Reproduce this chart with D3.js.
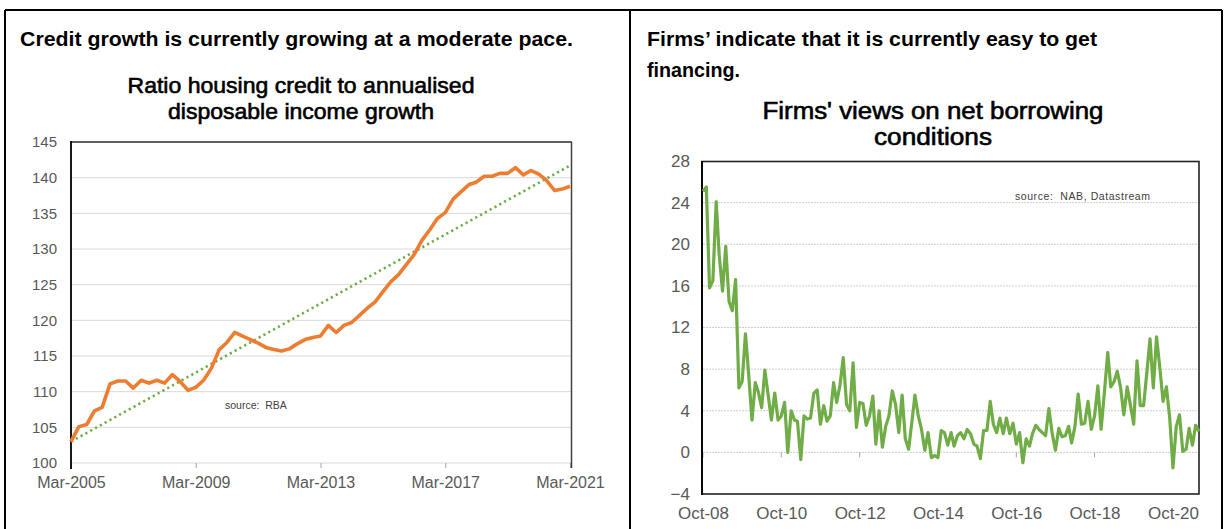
<!DOCTYPE html>
<html>
<head>
<meta charset="utf-8">
<script src="https://cdn.jsdelivr.net/npm/d3@7"></script>
<style>
  html, body { margin: 0; padding: 0; background: #fff; }
  svg { display: block; font-family: "Liberation Sans", Arial, sans-serif; }
</style>
</head>
<body>
<svg id="chart" width="1226" height="529"></svg>
<script>
// ---------- Data ----------
// Ratio of housing credit to annualised disposable income, quarterly from Mar-2005
const creditStart = "Mar-2005";
const creditRatio = [
  103.0, 105.1, 105.4, 107.3,
  107.8, 111.1, 111.5, 111.5,
  110.5, 111.6, 111.2, 111.6,
  111.2, 112.4, 111.4, 110.2,
  110.6, 111.6, 113.3, 115.9,
  116.9, 118.3, 117.8, 117.3,
  116.8, 116.2, 115.9, 115.7,
  116.0, 116.7, 117.3, 117.6,
  117.8, 119.3, 118.3, 119.3,
  119.7, 120.7, 121.7, 122.6,
  124.0, 125.4, 126.4, 127.8,
  129.2, 131.2, 132.7, 134.3,
  135.1, 137.0, 138.0, 139.0,
  139.4, 140.2, 140.2, 140.6,
  140.6, 141.4, 140.4, 141.0,
  140.5, 139.6, 138.2, 138.4,
  138.8
];
// Linear trend end points
const creditTrend = [103.0, 141.7];
const creditXTicks = ["Mar-2005", "Mar-2009", "Mar-2013", "Mar-2017", "Mar-2021"];
const creditYTicks = [100, 105, 110, 115, 120, 125, 130, 135, 140, 145];

// Firms' net borrowing conditions, monthly from Oct-08
const borrowStart = "Oct-08";
const borrowNet = [
  25.1, 25.5, 15.8, 16.5, 24.1, 19.0, 15.5, 19.8, 14.5, 13.6,
  16.6, 6.2, 6.8, 11.4, 7.5, 3.1, 6.7, 5.8, 4.3, 7.9,
  5.5, 3.1, 5.7, 3.1, 3.5, 4.8, 0.0, 4.0, 3.1, 3.0,
  -0.7, 3.5, 3.2, 3.3, 5.7, 6.0, 2.7, 4.5, 3.0, 3.5,
  6.7, 4.8, 6.5, 9.1, 4.6, 4.0, 8.6, 2.4, 4.8, 4.7,
  2.6, 3.5, 5.4, 0.8, 4.0, 0.5, 2.5, 3.5, 5.9, 4.6,
  1.9, 5.5, 1.3, 0.3, 3.0, 5.5, 3.5, 2.2, 0.2, 1.9,
  -0.5, -0.3, -0.5, 2.1, 1.9, 0.7, 1.9, 0.6, 1.6, 1.9,
  1.3, 2.2, 1.8, 0.8, 0.6, -0.6, 2.1, 2.1, 4.9, 2.7,
  1.9, 3.3, 1.8, 3.3, 1.8, 2.8, 0.8, 1.9, -1.0, 1.3,
  0.6, 1.8, 2.6, 2.2, 1.9, 1.6, 4.2, 1.8, 0.2, 2.3,
  1.5, 1.6, 2.5, 0.9, 2.5, 5.6, 2.7, 2.8, 4.9, 2.2,
  3.5, 6.4, 2.2, 5.8, 9.6, 6.3, 6.8, 7.8, 6.2, 3.6,
  6.3, 4.5, 2.7, 8.8, 4.5, 4.5, 7.7, 10.9, 6.2, 11.1,
  8.1, 4.9, 6.3, 3.3, -1.5, 2.5, 3.6, 0.1, 0.3, 2.3,
  0.7, 2.6, 2.0
];
const borrowXTicks = ["Oct-08", "Oct-10", "Oct-12", "Oct-14", "Oct-16", "Oct-18", "Oct-20"];
const borrowYTicks = [-4, 0, 4, 8, 12, 16, 20, 24, 28];

// ---------- Page frame ----------
const svg = d3.select("#chart");
const ORANGE = "#ED7D31", GREEN = "#70AD47", LABEL = "#595959", GRID = "#d9d9d9";

const frame = svg.append("g").attr("stroke", "#000").attr("stroke-width", 2);
frame.append("line").attr("x1", 5).attr("x2", 1222).attr("y1", 10).attr("y2", 10);
[5, 630, 1222].forEach(x =>
  frame.append("line").attr("x1", x).attr("x2", x).attr("y1", 10).attr("y2", 529));

// Panel headings
function heading(x, y, t, len) {
  svg.append("text").attr("x", x).attr("y", y)
    .attr("font-size", 20.5).attr("font-weight", "bold").attr("fill", "#000")
    .attr("textLength", len).attr("lengthAdjust", "spacingAndGlyphs")
    .text(t);
}
heading(20, 46, "Credit growth is currently growing at a moderate pace.", 553);
heading(647, 46, "Firms’ indicate that it is currently easy to get", 450);
heading(647, 77, "financing.", 93);

function chartTitle(cx, lines, y0, size, lens) {
  lines.forEach((t, i) =>
    svg.append("text").attr("x", cx).attr("y", y0 + i * 26)
      .attr("text-anchor", "middle").attr("font-size", size)
      .attr("fill", "#000").attr("stroke", "#000").attr("stroke-width", 0.6)
      .attr("textLength", lens[i]).attr("lengthAdjust", "spacingAndGlyphs")
      .text(t));
}
chartTitle(301, ["Ratio housing credit to annualised", "disposable income growth"], 93, 21.5, [347, 266]);
chartTitle(933, ["Firms' views on net borrowing", "conditions"], 119, 23, [341, 118]);

// ---------- Left chart: housing credit ratio ----------
{
  const parse = d3.timeParse("%b-%Y");
  const t0 = parse(creditStart);
  const dates = creditRatio.map((_, i) => d3.timeMonth.offset(t0, 3 * i));
  const x = d3.scaleTime().domain([t0, dates[dates.length - 1]]).range([71, 570]);
  const y = d3.scaleLinear().domain([100, 145]).range([463, 142]);
  const g = svg.append("g");

  // gridlines
  g.selectAll("line.grid").data(creditYTicks).join("line")
    .attr("x1", 71).attr("x2", 571)
    .attr("y1", d => y(d)).attr("y2", d => y(d))
    .attr("stroke", GRID).attr("stroke-width", 1);

  // y tick labels
  const yAxis = d3.axisLeft(y).tickValues(creditYTicks).tickSize(0).tickPadding(14);
  const ya = g.append("g").attr("transform", "translate(71,0)").call(yAxis);
  ya.select(".domain").remove();
  ya.selectAll("text").attr("font-size", 15).attr("fill", LABEL)
    .attr("font-family", "Liberation Sans, Arial, sans-serif");

  // x axis ticks and labels
  const xAxis = d3.axisBottom(x).tickValues(creditXTicks.map(parse))
    .tickFormat(d3.timeFormat("%b-%Y")).tickSize(5).tickPadding(9);
  const xa = g.append("g").attr("transform", "translate(0,463)").call(xAxis);
  xa.select(".domain").remove();
  xa.selectAll("line").attr("stroke", "#a6a6a6");
  xa.selectAll("text").attr("font-size", 16).attr("fill", LABEL)
    .attr("font-family", "Liberation Sans, Arial, sans-serif");

  // plot frame
  g.append("line").attr("x1", 71).attr("x2", 572).attr("y1", 142).attr("y2", 142)
    .attr("stroke", "#333").attr("stroke-width", 1.5);
  g.append("line").attr("x1", 571.5).attr("x2", 571.5).attr("y1", 142).attr("y2", 468)
    .attr("stroke", "#404040").attr("stroke-width", 1.5);
  g.append("line").attr("x1", 71).attr("x2", 71).attr("y1", 141).attr("y2", 469)
    .attr("stroke", "#000").attr("stroke-width", 1.8);

  // source note
  g.append("text").attr("x", 225).attr("y", 409).attr("font-size", 10.5)
    .attr("fill", "#404040").attr("xml:space", "preserve").text("source:  RBA");

  // trend line
  g.append("line")
    .attr("x1", x(dates[0])).attr("y1", y(creditTrend[0]))
    .attr("x2", x(dates[dates.length - 1])).attr("y2", y(creditTrend[1]))
    .attr("stroke", GREEN).attr("stroke-width", 2.6)
    .attr("stroke-dasharray", "2.2,3.3");

  // series
  g.append("path").datum(creditRatio)
    .attr("fill", "none").attr("stroke", ORANGE).attr("stroke-width", 3.6)
    .attr("stroke-linejoin", "round")
    .attr("d", d3.line().x((d, i) => x(dates[i])).y(d => y(d)));
}

// ---------- Right chart: net borrowing conditions ----------
{
  const parse = d3.timeParse("%b-%y");
  const t0 = parse(borrowStart);
  const dates = borrowNet.map((_, i) => d3.timeMonth.offset(t0, i));
  const x = d3.scaleTime().domain([t0, dates[dates.length - 1]]).range([703, 1199]);
  const y = d3.scaleLinear().domain([-4, 28]).range([494, 161]);
  const g = svg.append("g");

  // gridlines
  g.selectAll("line.grid").data(borrowYTicks.filter(d => d > -4 && d < 28)).join("line")
    .attr("x1", 703).attr("x2", 1199)
    .attr("y1", d => y(d)).attr("y2", d => y(d))
    .attr("stroke", "#cfcfcf").attr("stroke-width", 1)
    .attr("stroke-dasharray", "2,1");

  // y tick labels
  const yAxis = d3.axisLeft(y).tickValues(borrowYTicks).tickSize(0).tickPadding(12);
  const ya = g.append("g").attr("transform", "translate(702,0)").call(yAxis);
  ya.select(".domain").remove();
  ya.selectAll("text").attr("font-size", 17).attr("fill", LABEL)
    .attr("font-family", "Liberation Sans, Arial, sans-serif");

  // tick marks on the zero line
  const xTickDates = borrowXTicks.map(parse);
  g.selectAll("line.tick0").data(xTickDates).join("line")
    .attr("x1", d => x(d)).attr("x2", d => x(d))
    .attr("y1", y(0)).attr("y2", y(0) + 5)
    .attr("stroke", "#a6a6a6").attr("stroke-width", 1);

  // x labels along the bottom
  const xAxis = d3.axisBottom(x).tickValues(xTickDates)
    .tickFormat(d3.timeFormat("%b-%y")).tickSize(0).tickPadding(13);
  const xa = g.append("g").attr("transform", "translate(0,494)").call(xAxis);
  xa.select(".domain").remove();
  xa.selectAll("text").attr("font-size", 17).attr("fill", LABEL)
    .attr("font-family", "Liberation Sans, Arial, sans-serif");

  // plot frame
  g.append("rect").attr("x", 702).attr("y", 161.5).attr("width", 497).attr("height", 332.5)
    .attr("fill", "none").attr("stroke", "#222").attr("stroke-width", 1.6);
  g.append("line").attr("x1", 702).attr("x2", 702).attr("y1", 161).attr("y2", 495)
    .attr("stroke", "#000").attr("stroke-width", 1.8);

  // source note
  g.append("text").attr("x", 1015).attr("y", 200).attr("font-size", 10.5)
    .attr("fill", "#404040").attr("xml:space", "preserve")
    .attr("textLength", 135).attr("lengthAdjust", "spacing")
    .text("source:  NAB, Datastream");

  // series
  g.append("path").datum(borrowNet)
    .attr("fill", "none").attr("stroke", GREEN).attr("stroke-width", 3.2)
    .attr("stroke-linejoin", "round")
    .attr("d", d3.line().x((d, i) => x(dates[i])).y(d => y(d)));
}
</script>
</body>
</html>
